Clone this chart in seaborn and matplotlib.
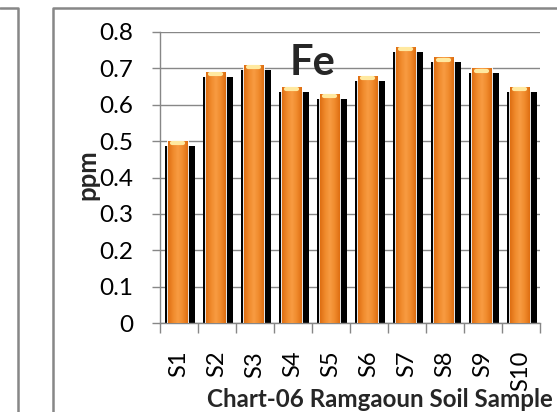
import numpy as np
import pandas as pd
import matplotlib
matplotlib.use("Agg")
import matplotlib.pyplot as plt
import matplotlib.transforms as mtransforms
from matplotlib.colors import LinearSegmentedColormap
from matplotlib.lines import Line2D
import seaborn as sns

# Fe concentration (ppm) in Ramgaoun soil samples
samples = ["S1", "S2", "S3", "S4", "S5", "S6", "S7", "S8", "S9", "S10"]
fe_ppm = [0.50, 0.69, 0.71, 0.65, 0.63, 0.68, 0.76, 0.73, 0.70, 0.65]
y_ticks = [0, 0.1, 0.2, 0.3, 0.4, 0.5, 0.6, 0.7, 0.8]
y_tick_labels = ["0", "0.1", "0.2", "0.3", "0.4", "0.5", "0.6", "0.7", "0.8"]

df = pd.DataFrame({"sample": samples, "fe": fe_ppm})

sns.set_theme(style="white")
plt.rcParams["font.family"] = ["Lato", "DejaVu Sans"]

W, H, DPI = 557, 412, 100
fig = plt.figure(figsize=(W / DPI, H / DPI), dpi=DPI)
ax = fig.add_axes([160 / W, 1 - 323 / H, 380 / W, 291 / H])

grid_c = "#878787"

# shadow bars
sns.barplot(data=df, x="sample", y="fe", color="black", width=0.80,
            saturation=1, ax=ax, zorder=2, linewidth=0)
n_shadow = len(ax.patches)
# front bars
sns.barplot(data=df, x="sample", y="fe", color="#F08A2C", width=0.52,
            saturation=1, ax=ax, zorder=3, edgecolor="white", linewidth=2.0)

px = 1.0 / DPI
shift_shadow = mtransforms.ScaledTranslation(1.0 * px, -5 * px, fig.dpi_scale_trans)
shift_front = mtransforms.ScaledTranslation(-1.5 * px, 0, fig.dpi_scale_trans)
for p in ax.patches[:n_shadow]:
    p.set_transform(ax.transData + shift_shadow)

# horizontal orange gradient inside each front bar
bar_cmap = LinearSegmentedColormap.from_list(
    "bar", ["#DE6E12", "#F08A2C", "#F89C42", "#F08A2C", "#DE6E12"])
grad = np.linspace(0, 1, 64).reshape(1, -1)
for p in ax.patches[n_shadow:]:
    p.set_transform(ax.transData + shift_front)
    x0, w, h = p.get_x(), p.get_width(), p.get_height()
    im = ax.imshow(grad, cmap=bar_cmap, aspect="auto",
                   extent=(x0, x0 + w, 0, h), zorder=3.5,
                   transform=ax.transData + shift_front)
    im.set_clip_path(p)
    # pale cap at the top
    ax.plot([x0 + w * 0.2, x0 + w * 0.8], [h - 0.006, h - 0.006],
            color="#FFE9A0", lw=3, solid_capstyle="round", zorder=3.6,
            transform=ax.transData + shift_front)

ax.set_xlim(-0.5, len(samples) - 0.5)
ax.set_ylim(0, 0.8)
ax.set_yticks(y_ticks)
ax.set_yticklabels(y_tick_labels)

ax.yaxis.grid(True, color=grid_c, lw=1.0)
ax.xaxis.grid(False)
ax.set_axisbelow(True)

for s in ["top", "right"]:
    ax.spines[s].set_visible(False)
for s in ["left", "bottom"]:
    ax.spines[s].set_color(grid_c)
    ax.spines[s].set_linewidth(1.0)

ax.set_xticks(np.arange(-0.5, len(samples), 1.0), minor=True)
ax.tick_params(axis="x", which="minor", length=7, width=1.0, color=grid_c,
               direction="out", bottom=True)
ax.tick_params(axis="x", which="major", length=0, pad=20, labelsize=17,
               labelrotation=90, colors="black")
ax.tick_params(axis="y", which="major", length=6, width=1.0, color=grid_c,
               direction="out", left=True, pad=13, labelsize=17.5,
               labelcolor="black")
for lab in ax.get_xticklabels():
    lab.set_verticalalignment("top")

ax.set_xlabel("")
ax.set_ylabel("")

fig.text(87 / W, 1 - 175 / H, "ppm", rotation=90, fontsize=18.5,
         fontweight="bold", ha="center", va="center")
fig.text(290 / W, 1 - 75 / H, "Fe", fontsize=30, fontweight="bold",
         ha="left", va="baseline", zorder=10)
fig.text(553 / W, 1 - 407 / H, "Chart-06 Ramgaoun Soil Sample",
         fontsize=17.4, fontweight="bold", ha="right", va="baseline")

# chart frames
for xs, ys in [([0, 17.5, 17.5], [8, 8, H]), ([W, 52.5, 52.5], [8, 8, H])]:
    fig.add_artist(Line2D([x / W for x in xs], [1 - y / H for y in ys],
                          transform=fig.transFigure, color=grid_c, lw=1.8))

fig.savefig("out.png", dpi=DPI)
